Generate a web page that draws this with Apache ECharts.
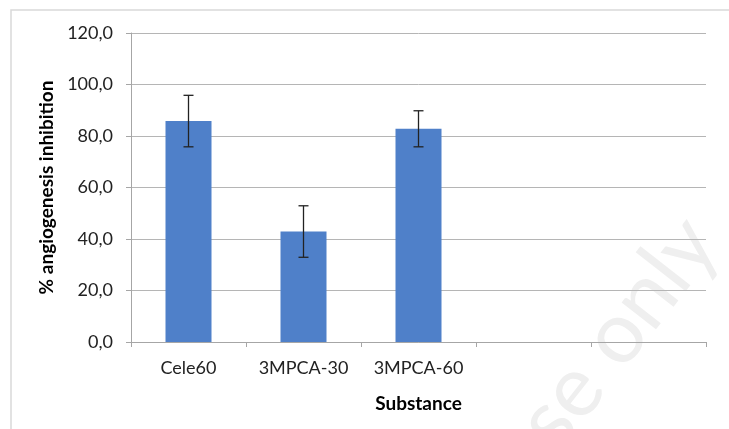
<!DOCTYPE html>
<html><head><meta charset="utf-8">
<script src="https://cdn.jsdelivr.net/npm/echarts@6/dist/echarts.min.js"></script>
<style>html,body{margin:0;padding:0;background:#fff}#c{width:729px;height:429px}</style>
</head><body><div id="c"></div>
<script>
var categories = ['Cele60', '3MPCA-30', '3MPCA-60', '', ''];
var values = [85.8, 42.9, 82.8, null, null];
var errors = [10.0, 10.0, 7.0, null, null];
var yTicks = [0, 20, 40, 60, 80, 100, 120];

var errData = [];
for (var i = 0; i < values.length; i++) {
  if (values[i] != null) errData.push([i, values[i] - errors[i], values[i] + errors[i]]);
}
var font = 'Lato';
var chart = echarts.init(document.getElementById('c'));
chart.setOption({
  animation: false,
  backgroundColor: '#fff',
  graphic: [
    {type: 'rect', shape: {x: 11, y: 10, width: 800, height: 600}, style: {fill: 'none', stroke: '#d9d9d9', lineWidth: 1.5}, z: -10},
    {type: 'text', x: 603, y: 352, rotation: 52 * Math.PI / 180, style: {text: 'use only', font: '86px Lato', fill: '#efefef', align: 'center', verticalAlign: 'middle'}, z: -5}
  ],
  grid: {left: 131, right: 23, top: 33, bottom: 87, containLabel: false},
  xAxis: {
    type: 'category', data: categories,
    name: 'Substance', nameLocation: 'middle', nameGap: 52,
    nameTextStyle: {fontFamily: font, fontWeight: 'bold', fontSize: 19, color: '#000'},
    axisLine: {lineStyle: {color: '#a6a6a6', width: 1}},
    axisTick: {show: true, length: 5, lineStyle: {color: '#a6a6a6'}},
    axisLabel: {fontFamily: font, fontSize: 18, color: '#222', margin: 17, interval: 0},
    splitLine: {show: false}
  },
  yAxis: {
    type: 'value', min: 0, max: 120, interval: 20,
    name: '% angiogenesis inhibition', nameLocation: 'middle', nameGap: 74, nameRotate: 90,
    nameTextStyle: {fontFamily: font, fontWeight: 'bold', fontSize: 19, color: '#000'},
    axisLine: {show: true, lineStyle: {color: '#a6a6a6', width: 1}},
    axisTick: {show: true, length: 5, lineStyle: {color: '#a6a6a6'}},
    axisLabel: {fontFamily: font, fontSize: 18, color: '#222', margin: 18,
      formatter: function (v) { return v.toFixed(1).replace('.', ','); }},
    splitLine: {lineStyle: {color: '#b5b5b5', width: 1}}
  },
  series: [
    {type: 'bar', data: values, barWidth: '40%', itemStyle: {color: '#4f80c9'}},
    {type: 'custom', data: errData, z: 10,
      renderItem: function (params, api) {
        var x = api.value(0);
        var lo = api.coord([x, api.value(1)]);
        var hi = api.coord([x, api.value(2)]);
        var w = 5;
        var st = {stroke: '#222', lineWidth: 1.3};
        return {type: 'group', children: [
          {type: 'line', shape: {x1: lo[0], y1: lo[1], x2: hi[0], y2: hi[1]}, style: st},
          {type: 'line', shape: {x1: lo[0] - w, y1: lo[1], x2: lo[0] + w, y2: lo[1]}, style: st},
          {type: 'line', shape: {x1: hi[0] - w, y1: hi[1], x2: hi[0] + w, y2: hi[1]}, style: st}
        ]};
      }}
  ]
});
</script></body></html>
